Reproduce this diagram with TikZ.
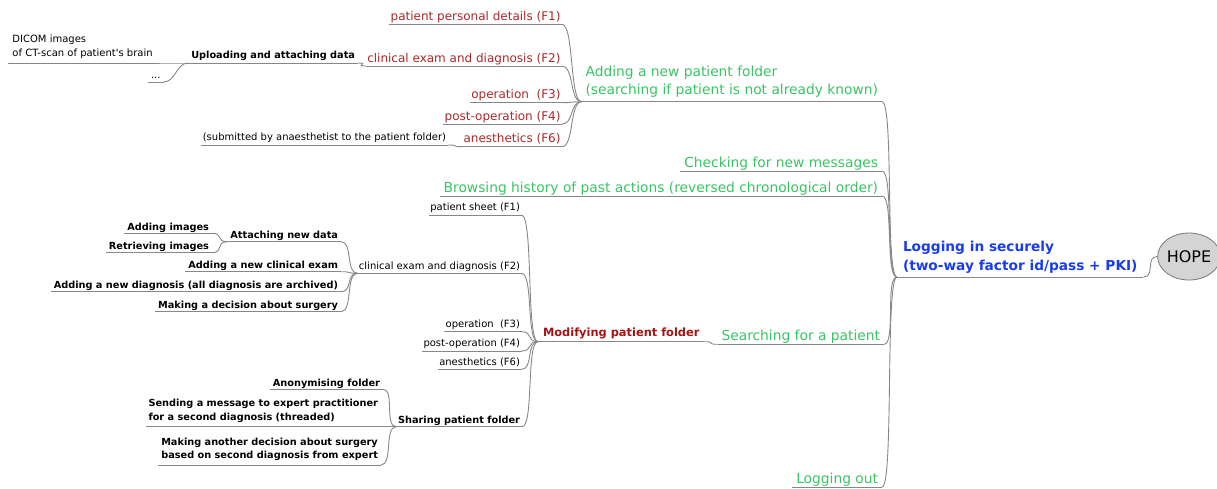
\documentclass[tikz,border=0pt]{standalone}
\usepackage{fontspec}
\setmainfont{DejaVu Sans}[Ligatures=TeXOff]
\usetikzlibrary{shapes.geometric}
\definecolor{edgegray}{RGB}{135,135,135}
\definecolor{mmgreen}{RGB}{56,196,98}
\definecolor{mmred}{RGB}{170,40,40}
\definecolor{mmdarkred}{RGB}{165,20,20}
\definecolor{mmblue}{RGB}{25,60,240}
\definecolor{rootfill}{RGB}{212,212,212}
\definecolor{rootline}{RGB}{120,120,120}
\tikzset{
  mm/.style={anchor=south east, inner ysep=0pt, outer sep=0pt, inner xsep=1.5pt, text depth=4pt},
  sm/.style={mm, font=\fontsize{10}{13.3}\selectfont, text=black},
  bd/.style={mm, font=\fontsize{9.75}{13.3}\selectfont\bfseries, text=black, inner xsep=3pt, text depth=3pt},
  rd/.style={mm, font=\fontsize{12}{14}\selectfont, text=mmred},
  gr/.style={mm, font=\fontsize{13.8}{17.3}\selectfont, text=mmgreen, inner xsep=4pt},
  bl/.style={mm, font=\fontsize{13.7}{19}\selectfont\bfseries, text=mmblue, inner xsep=6pt, text depth=7pt},
  rootnode/.style={ellipse, draw=rootline, fill=rootfill, line width=0.8pt, minimum width=55pt, minimum height=47pt, inner sep=0pt, font=\fontsize{16}{18}\selectfont},
  ul/.style={draw=edgegray, line width=0.9pt},
  edge/.style={draw=edgegray, line width=0.9pt}
}
\newcommand\mmedge[2]{\draw[edge] (#1.south east) .. controls +(12,0) and +(-12,0) .. (#2.south west);}
\begin{document}
\begin{tikzpicture}[x=1pt,y=-1pt]
\useasboundingbox (0,0) rectangle (1217,488);
% root
\node[rootnode] (hope) at (1189,256.5) {HOPE};
\node[bl, anchor=south west] (login) at (897,277) {\begin{tabular}[b]{@{}l@{}}Logging in securely\\(two-way factor id/pass + PKI)\end{tabular}};
% level 2
\node[gr, text depth=7.5pt] (add) at (882,101.7) {\begin{tabular}[b]{@{}l@{}}Adding a new patient folder\\(searching if patient is not already known)\end{tabular}};
\node[gr] (check) at (882,171) {Checking for new messages};
\node[gr] (browse) at (882,196) {Browsing history of past actions (reversed chronological order)};
\node[gr, text depth=3.6pt] (search) at (884,344.3) {Searching for a patient};
\node[gr, text depth=3.7pt] (logout) at (882,487) {Logging out};
% new patient folder branch
\node[rd] (a1) at (562,24.3) {patient personal details (F1)};
\node[rd] (a2) at (562,66) {clinical exam and diagnosis (F2)};
\node[rd] (a3) at (562,102.7) {operation~~(F3)};
\node[rd] (a4) at (562,124) {post-operation (F4)};
\node[rd] (a5) at (562,146.7) {anesthetics (F6)};
\node[bd, text depth=4.5pt] (upl) at (358,63) {Uploading and attaching data};
\node[sm, anchor=south west, inner xsep=4.5pt, text depth=7pt] (dicom) at (8,63) {\begin{tabular}[b]{@{}l@{}}DICOM images\\of CT-scan of patient's brain\end{tabular}};
\node[sm, anchor=south west, inner xsep=3pt] (dots) at (148,82) {...};
\node[sm, inner xsep=2pt, text depth=4.3pt] (subm) at (448,145) {(submitted by anaesthetist to the patient folder)};
% modifying branch
\node[mm, anchor=south west, font=\fontsize{11.4}{14}\selectfont\bfseries, text=mmdarkred, inner xsep=5pt, text depth=5pt] (modify) at (538,341.7) {Modifying patient folder};
\node[sm, text depth=4.3pt] (m1) at (521.5,215) {patient sheet (F1)};
\node[sm, text depth=4.3pt] (m2) at (521.5,273.3) {clinical exam and diagnosis (F2)};
\node[sm, text depth=4.3pt] (m3) at (521.5,331.7) {operation~~(F3)};
\node[sm, text depth=4.3pt] (m4) at (521.5,351) {post-operation (F4)};
\node[sm, text depth=4.3pt] (m5) at (521.5,369.3) {anesthetics (F6)};
\node[bd, inner xsep=2pt, text depth=3.5pt] (share) at (522,426.7) {Sharing patient folder};
% clinical exam children
\node[bd] (c1) at (341,241.7) {Attaching new data};
\node[bd] (c2) at (341,271.7) {Adding a new clinical exam};
\node[bd] (c3) at (341,291.7) {Adding a new diagnosis (all diagnosis are archived)};
\node[bd] (c4) at (341,311.7) {Making a decision about surgery};
\node[bd] (c1a) at (212,233.3) {Adding images};
\node[bd] (c1b) at (212,252.7) {Retrieving images};
% sharing children
\node[bd] (s1) at (383,389.3) {Anonymising folder};
\node[bd, text depth=6.7pt] (s2) at (381,426.7) {\begin{tabular}[b]{@{}l@{}}Sending a message to expert practitioner\\for a second diagnosis (threaded)\end{tabular}};
\node[bd, text depth=6.7pt] (s3) at (381,465) {\begin{tabular}[b]{@{}l@{}}Making another decision about surgery\\based on second diagnosis from expert\end{tabular}};
% underlines
\foreach \n in {login,add,check,browse,search,logout,a1,a2,a3,a4,a5,upl,dicom,dots,subm,modify,m1,m2,m3,m4,m5,share,c1,c2,c3,c4,c1a,c1b,s1,s2,s3}
  \draw[ul] (\n.south west) -- (\n.south east);
% connectors
\draw[edge] (login.south east) .. controls +(12,0) and +(-12,0) .. (hope.west);
\mmedge{add}{login}
\mmedge{check}{login}
\mmedge{browse}{login}
\mmedge{search}{login}
\mmedge{logout}{login}
\mmedge{a1}{add}
\mmedge{a2}{add}
\mmedge{a3}{add}
\mmedge{a4}{add}
\mmedge{a5}{add}
\mmedge{upl}{a2}
\mmedge{dicom}{upl}
\mmedge{dots}{upl}
\mmedge{subm}{a5}
\mmedge{modify}{search}
\mmedge{m1}{modify}
\mmedge{m2}{modify}
\mmedge{m3}{modify}
\mmedge{m4}{modify}
\mmedge{m5}{modify}
\mmedge{share}{modify}
\mmedge{c1}{m2}
\mmedge{c2}{m2}
\mmedge{c3}{m2}
\mmedge{c4}{m2}
\mmedge{c1a}{c1}
\mmedge{c1b}{c1}
\mmedge{s1}{share}
\mmedge{s2}{share}
\mmedge{s3}{share}
\end{tikzpicture}
\end{document}
